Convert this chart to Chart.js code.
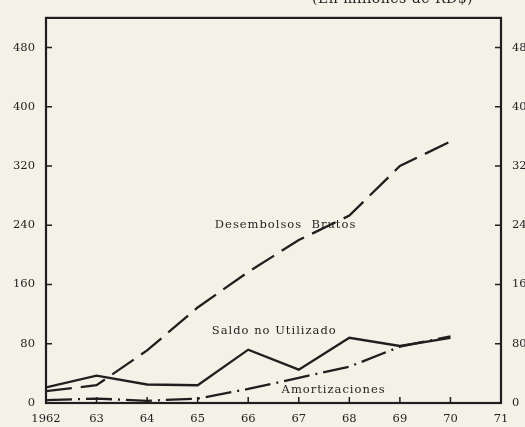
<!DOCTYPE html>
<html>
<head>
<meta charset="utf-8">
<script src="https://cdn.jsdelivr.net/npm/chart.js@4/dist/chart.umd.min.js"></script>
<style>
    html, body { margin: 0; padding: 0; background: #f4f1e7; overflow: hidden; }
    #wrap { width: 525px; height: 427px; overflow: hidden; position: relative; }
    canvas { position: absolute; left: 0; top: 0; }
</style>
</head>
<body>
<div id="wrap"><canvas id="chart" width="548" height="427"></canvas></div>
<script>
const years = [1962, 1963, 1964, 1965, 1966, 1967, 1968, 1969, 1970];
const desembolsos = [16, 24, 71, 129, 177, 220, 253, 320, 353];
const saldo = [21, 37, 25, 24, 72, 45, 88, 77, 88];
const amortizaciones = [4, 6, 3, 6, 19, 34, 49, 76, 90];
const yTicks = [0, 80, 160, 240, 320, 400, 480];
const xTicks = [1962, 1963, 1964, 1965, 1966, 1967, 1968, 1969, 1970, 1971];
const xLabels = ['1962', '63', '64', '65', '66', '67', '68', '69', '70', '71'];

const ink = '#1f1f1f';
const serif = "'DejaVu Serif', 'Liberation Serif', serif";

const toPoints = vals => vals.map((v, i) => ({ x: years[i], y: v }));

// frame, inward ticks and the text on the plot
const frame = {
    id: 'frame',
    afterDatasetsDraw(chart) {
        const { ctx, chartArea: a, scales } = chart;
        ctx.save();
        ctx.strokeStyle = ink;
        ctx.lineWidth = 2.2;
        ctx.strokeRect(a.left, a.top, a.right - a.left, a.bottom - a.top);

        ctx.lineWidth = 1.5;
        ctx.beginPath();
        yTicks.forEach(v => {
            const y = scales.y.getPixelForValue(v);
            ctx.moveTo(a.left, y); ctx.lineTo(a.left + 6, y);
            ctx.moveTo(a.right, y); ctx.lineTo(a.right - 6, y);
        });
        xTicks.forEach(v => {
            const x = scales.x.getPixelForValue(v);
            ctx.moveTo(x, a.bottom); ctx.lineTo(x, a.bottom - 6);
        });
        ctx.stroke();

        ctx.fillStyle = ink;
        ctx.textBaseline = 'middle';
        ctx.textAlign = 'left';
        ctx.font = '11.5px ' + serif;
        ctx.letterSpacing = '1px';
        const notes = [
            { text: 'Desembolsos  Brutos', x: 1965.34, y: 241 },
            { text: 'Saldo no Utilizado', x: 1965.28, y: 97 },
            { text: 'Amortizaciones', x: 1966.66, y: 17 }
        ];
        notes.forEach(n => {
            ctx.fillText(n.text, scales.x.getPixelForValue(n.x), scales.y.getPixelForValue(n.y));
        });

        ctx.letterSpacing = '0.5px';
        ctx.font = '14px ' + serif;
        ctx.textBaseline = 'alphabetic';
        ctx.fillText('(En millones de RD$)', 312, 3);
        ctx.restore();
    }
};

const yAxis = (position, width) => ({
    type: 'linear',
    position: position,
    min: 0,
    max: 520,
    afterBuildTicks: scale => { scale.ticks = yTicks.map(v => ({ value: v })); },
    afterFit: scale => { scale.width = width; },
    grid: { drawOnChartArea: false, drawTicks: false },
    border: { display: false },
    ticks: {
        color: ink,
        padding: position === 'left' ? 11 : 11,
        font: { family: serif, size: 11.5 }
    }
});

new Chart(document.getElementById('chart'), {
    type: 'line',
    data: {
        datasets: [
            {
                label: 'Desembolsos Brutos',
                data: toPoints(desembolsos),
                borderDash: [26, 9]
            },
            {
                label: 'Saldo no Utilizado',
                data: toPoints(saldo)
            },
            {
                label: 'Amortizaciones',
                data: toPoints(amortizaciones),
                borderDash: [26, 6, 2, 6]
            }
        ]
    },
    options: {
        responsive: false,
        animation: false,
        devicePixelRatio: 1,
        layout: { padding: { top: 12 } },
        elements: {
            line: { borderColor: ink, borderWidth: 2.3, tension: 0, fill: false },
            point: { radius: 0 }
        },
        plugins: {
            legend: { display: false },
            tooltip: { enabled: false }
        },
        scales: {
            x: {
                type: 'linear',
                min: 1962,
                max: 1971,
                afterBuildTicks: scale => { scale.ticks = xTicks.map(v => ({ value: v })); },
                afterFit: scale => { scale.height = 24; },
                grid: { drawOnChartArea: false, drawTicks: false },
                border: { display: false },
                ticks: {
                    color: ink,
                    padding: 9,
                    maxRotation: 0,
                    autoSkip: false,
                    font: { family: serif, size: 11.5 },
                    callback: v => xLabels[xTicks.indexOf(v)]
                }
            },
            y: yAxis('left', 46),
            y2: yAxis('right', 47)
        }
    },
    plugins: [frame]
});
</script>
</body>
</html>
